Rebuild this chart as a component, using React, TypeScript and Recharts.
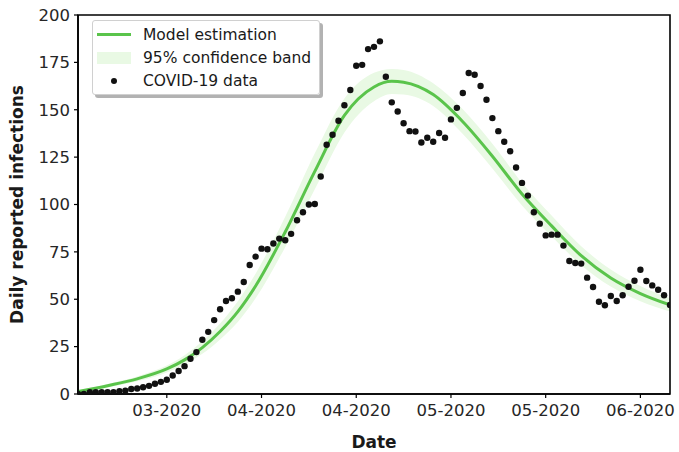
import React from "react";
import {
    ComposedChart,
    Line,
    Area,
    Scatter,
    XAxis,
    YAxis,
    ReferenceArea,
} from "recharts";

// daily reported cases, one value per day (day 0 .. 100)
const reportedCases = [
    0, 0, 1, 1, 1, 1, 1, 1.5, 1.8, 2.6,
    2.9, 3.6, 4.3, 5.4, 6.4, 7.5, 9.8, 12.1, 14.7, 18.6,
    22.1, 28.6, 32.8, 39, 44.7, 49.1, 50.5, 54, 59.1, 68.1,
    72.5, 76.7, 76.4, 79.4, 82, 81.1, 84.5, 91.7, 95.9, 100,
    100.3, 114.8, 131.5, 136.8, 144.2, 152.4, 160.4, 173.2, 173.7, 182,
    183.2, 186.1, 167.4, 153.9, 149.1, 142.9, 138.7, 138.5, 132.7, 135.2,
    133.1, 137.7, 135.2, 144.9, 151, 158.8, 169.4, 168.5, 162.5, 155.3,
    145.6, 138.7, 133.1, 128.1, 119.5, 111.4, 104.7, 95.9, 89.9, 83.7,
    84.1, 84.1, 78.3, 70.2, 69.1, 68.8, 61.4, 56.5, 48.7, 46.8,
    51.7, 49.1, 52.1, 56.6, 59.8, 65.6, 59.6, 57.3, 55, 52.1,
    47,
];

// model curve at these days
const modelDays = [0, 5, 10, 15, 18, 21, 24, 27, 30, 35, 40, 45, 50, 53, 55, 60, 65, 70, 75, 80, 85, 90, 95, 100];
const modelValues = [1.3, 4.4, 8.0, 13.2, 18.0, 24.5, 33, 43.5, 57, 85.5, 117.5, 147, 162, 165, 164.5, 158, 143.7, 125.5, 105.5, 88.7, 73, 61.2, 53, 47];
const bandLow = [0.8, 3.5, 6.7, 11.4, 15.6, 21.2, 28.8, 38, 50.5, 77.5, 108, 138, 154.5, 158.3, 158, 152, 137.2, 119, 99.5, 83.2, 68, 56.7, 49, 43.5];
const bandHigh = [1.8, 5.3, 9.3, 15, 20.4, 27.8, 37.2, 49, 63.5, 93.5, 127, 156, 169.5, 171.5, 171, 164, 150.2, 132, 111.5, 94.2, 78, 65.7, 57, 50.5];

const tickDays = [15, 31, 47, 63, 79, 95];
const tickLabels = ["03-2020", "04-2020", "04-2020", "05-2020", "05-2020", "06-2020"];
const yTicks = [0, 25, 50, 75, 100, 125, 150, 175, 200];

const points = reportedCases.map((v, i) => ({ day: i, cases: v }));
const modelRows = modelDays.map((d, i) => ({
    day: d,
    model: modelValues[i],
    band: [bandLow[i], bandHigh[i]],
}));

const GREEN = "#5ac44b";
const BAND = "#e9f9e4";
const FONT = "'DejaVu Sans', sans-serif";

const Legend: React.FC = () => (
    <div
        style={{
            position: "absolute",
            left: 92,
            top: 20,
            width: 226,
            height: 73,
            background: "rgba(255,255,255,0.9)",
            border: "1px solid #d0d0d0",
            borderRadius: 3,
            boxShadow: "3px 3px 0 rgba(0,0,0,0.3)",
            fontFamily: FONT,
            fontSize: 15.5,
            color: "#1a1a1a",
        }}
    >
        {[0, 1, 2].map((r) => (
            <div key={r} style={{ position: "absolute", left: 0, top: 3 + r * 23, height: 22, width: 226 }}>
                <div style={{ position: "absolute", left: 4, top: 0, width: 34, height: 22 }}>
                    {r === 0 && <div style={{ position: "absolute", top: 9, left: 0, width: 34, height: 3, background: GREEN }} />}
                    {r === 1 && <div style={{ position: "absolute", top: 5, left: 0, width: 34, height: 12, background: BAND }} />}
                    {r === 2 && (
                        <div style={{ position: "absolute", top: 8, left: 14, width: 6, height: 6, borderRadius: 3, background: "#111" }} />
                    )}
                </div>
                <div style={{ position: "absolute", left: 50, top: 1, lineHeight: "20px", whiteSpace: "nowrap" }}>
                    {["Model estimation", "95% confidence band", "COVID-19 data"][r]}
                </div>
            </div>
        ))}
    </div>
);

const App: React.FC = () => (
    <div style={{ position: "absolute", left: 0, top: 0, width: 679, height: 452, background: "#fff" }}>
        <ComposedChart width={679} height={452} data={modelRows} margin={{ top: 15, right: 9, bottom: 0, left: 0 }}>
            <XAxis
                dataKey="day"
                type="number"
                domain={[0, 100]}
                ticks={tickDays}
                tickFormatter={(v: number) => tickLabels[tickDays.indexOf(v)]}
                height={58}
                tickSize={4}
                axisLine={{ stroke: "#000", strokeWidth: 1.6 }}
                tickLine={{ stroke: "#000", strokeWidth: 1.2 }}
                tick={{ fill: "#262626", fontSize: 16.5, fontFamily: FONT, dy: 4 }}
                label={{ value: "Date", position: "insideBottom", offset: 4, fill: "#1a1a1a", fontSize: 17, fontWeight: "bold", fontFamily: FONT }}
                allowDataOverflow
            />
            <YAxis
                type="number"
                domain={[0, 200]}
                ticks={yTicks}
                width={78}
                tickSize={4}
                axisLine={{ stroke: "#000", strokeWidth: 1.6 }}
                tickLine={{ stroke: "#000", strokeWidth: 1.2 }}
                tick={{ fill: "#262626", fontSize: 16.5, fontFamily: FONT, dx: -2 }}
                label={{
                    content: ({ viewBox }: any) => (
                        <text
                            x={17}
                            y={viewBox.y + viewBox.height / 2}
                            transform={`rotate(-90 17 ${viewBox.y + viewBox.height / 2})`}
                            textAnchor="middle"
                            dominantBaseline="central"
                            fill="#1a1a1a"
                            fontSize={17}
                            fontWeight="bold"
                            fontFamily={FONT}
                        >
                            Daily reported infections
                        </text>
                    ),
                }}
                allowDataOverflow
            />
            <Area
                dataKey="band"
                type="monotone"
                stroke="none"
                fill={BAND}
                fillOpacity={1}
                isAnimationActive={false}
            />
            <Line
                dataKey="model"
                type="monotone"
                stroke={GREEN}
                strokeWidth={3}
                dot={false}
                activeDot={false}
                isAnimationActive={false}
            />
            <Scatter
                data={points}
                dataKey="cases"
                isAnimationActive={false}
                shape={(p: any) => <circle cx={p.cx} cy={p.cy} r={3.2} fill="#111" />}
            />
            <ReferenceArea x1={0} x2={100} y1={0} y2={200} fill="none" stroke="#000" strokeWidth={1.6} ifOverflow="visible" />
        </ComposedChart>
        <Legend />
    </div>
);

export default App;
